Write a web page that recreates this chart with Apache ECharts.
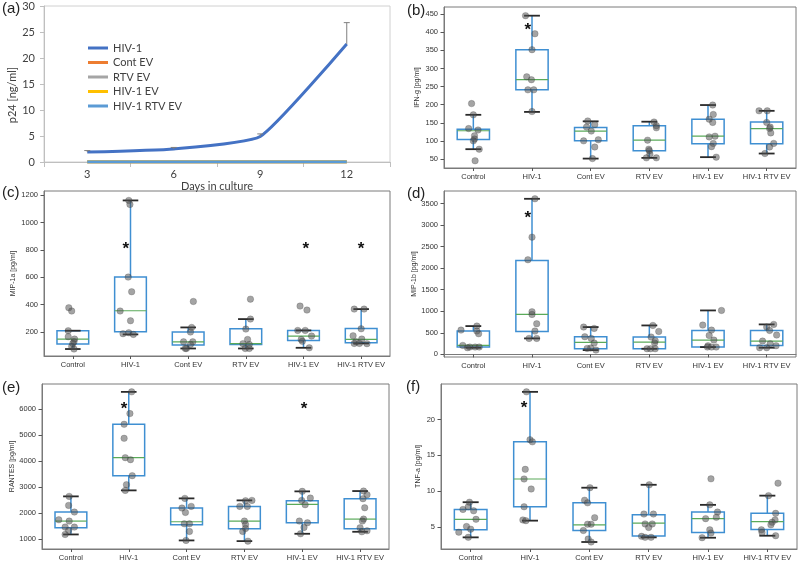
<!DOCTYPE html>
<html><head><meta charset="utf-8">
<script src="https://cdn.jsdelivr.net/npm/echarts@6/dist/echarts.min.js"></script>
<style>html,body{margin:0;padding:0;background:#fff}#c{width:800px;height:562px}</style>
</head><body><div id="c"></div>
<script>
// ---------- data ----------
const groups = ['Control','HIV-1','Cont EV','RTV EV','HIV-1 EV','HIV-1 RTV EV'];
const days = ['3','6','9','12'];
const p24Names = ['HIV-1','Cont EV','RTV EV','HIV-1 EV','HIV-1 RTV EV'];
const p24HIV1 = [1.9, 2.5, 4.9, 22.7];
const p24HIV1Err = [0.3, 0.3, 0.5, 4.1];
const p24ContEV = [0, 0, 0, 0];
const p24RTVEV = [0, 0, 0, 0];
const p24HIV1EV = [0, 0, 0, 0];
const p24HIV1RTVEV = [0, 0, 0, 0];

// box stats per group: [low whisker, Q1, median, Q3, high whisker]
const ifnBox = [[77,104,128,132,172],[180,241,269,352,446],[51,100,127,137,154],[53,73,102,142,153],[55,92,113,160,199],[65,92,134,152,183]];
const ifnPoints = [[203,172,134,130,114,105,100,77,45],[446,396,352,277,269,241,241,181],[155,145,138,127,103,100,83,51],[152,142,136,102,77,73,63,53,53],[199,173,160,151,113,111,93,84,55],[183,183,151,138,134,122,93,83,65]];
const ifnJitter = [[-.03,0,-.08,.08,.02,.02,0,.1,.03],[-.11,.05,0,-.09,-.01,-.07,.03,0],[-.05,.07,-.07,.01,.13,-.12,.07,.03],[.08,.12,.12,-.03,-.01,0,.01,-.05,.12],[.08,.09,.02,.08,.12,.02,.09,.06,.14],[-.13,.01,0,.06,.05,.07,.12,.05,-.03]];
const ifnStars = [[1, 418, -0.07]];
const ifnTicks = [50,100,150,200,250,300,350,400,450];

const mip1aBox = [[76,112,149,210,210],[183,202,356,602,1163],[80,105,129,200,234],[80,110,115,224,295],[85,139,171,212,212],[117,122,146,227,368]];
const mip1aPoints = [[378,354,210,166,149,129,117,95,76],[1163,1134,602,495,354,283,195,188,183],[424,234,200,129,129,110,80,80],[441,295,222,146,115,110,80,80],[390,361,212,212,171,146,132,85],[368,368,224,173,149,129,117,117,115]];
const mip1aJitter = [[-.07,-.02,-.08,-.08,.03,.02,0,-.02,.02],[-.03,-.01,-.04,.02,-.18,0,-.03,-.13,.05],[.09,.06,.04,-.08,.08,.04,-.03,-.05],[.08,.08,0,.03,-.05,.06,-.01,.06],[-.06,.06,-.1,.03,.14,-.04,-.02,.1],[-.12,.05,0,-.14,.01,-.09,-.12,-.03,.1]];
const mip1aStars = [[1, 837, -0.08],[4, 837, 0.04],[5, 837, 0]];
const mip1aTicks = [200,400,600,800,1000,1200];

const mip1bBox = [[155,170,209,541,657],[371,533,927,2179,3609],[100,131,278,410,634],[131,131,286,402,672],[170,170,332,556,1020],[155,209,309,556,696]];
const mip1bPoints = [[657,564,541,479,209,170,170,170,155],[3609,2720,2195,989,927,711,541,371,371],[634,603,410,371,263,147,139,100],[672,533,402,317,263,131,131,131],[1020,680,564,440,332,200,170,170,170],[696,634,556,448,309,247,201,155,155]];
const mip1bJitter = [[.06,-.21,.06,.09,-.18,-.06,.03,.1,-.1],[.05,0,-.07,0,0,.08,.05,.08,-.05],[-.12,.06,-.1,.01,.06,0,-.06,.09],[.06,.16,.03,.1,.09,-.04,.1,.02],[.23,-.09,.06,.02,.1,0,-.01,.06,.14],[.12,0,.05,.17,-.07,.06,.16,0,-.12]];
const mip1bStars = [[1, 3246, -0.07]];
const mip1bTicks = [0,500,1000,1500,2000,2500,3000,3500];

const rantesBox = [[1180,1437,1694,2041,2645],[2876,3442,4135,5420,6667],[950,1553,1668,2195,2568],[923,1398,1694,2260,2491],[1206,1630,2336,2478,2838],[1283,1398,1771,2555,2850]];
const rantesPoints = [[2645,2298,2041,1745,1694,1463,1463,1334,1180],[6667,5832,5420,4880,4135,4058,3442,3095,2876],[2568,2260,2195,2028,1591,1591,1295,950],[2491,2478,2260,2260,1694,1565,1411,1296,923],[2838,2580,2491,2323,1694,1630,1450,1206],[2850,2709,2555,2208,1771,1694,1437,1321,1283]];
const rantesJitter = [[-.03,-.04,.06,-.21,-.03,.06,-.1,-.04,-.1],[.05,.02,-.08,-.08,-.06,.03,.06,-.04,-.06],[-.03,.08,-.08,-.02,-.04,.05,.05,-.01],[.13,.02,.05,-.08,0,.02,.02,-.03,.06],[0,.14,-.01,.05,-.05,.09,.03,-.03],[.06,.12,.05,.08,.06,.04,0,.12,.03]];
const rantesStars = [[1, 6166, -0.08],[4, 6166, 0.03]];
const rantesTicks = [1000,2000,3000,4000,5000,6000];

const tnfBox = [[3.53,4.59,6.06,7.44,8.45],[5.87,7.81,11.7,16.9,23.9],[2.88,4.49,5.28,8.36,10.48],[3.53,3.71,5.51,6.70,10.89],[3.48,4.22,6.15,7.07,8.08],[3.76,4.63,5.74,6.89,9.37]];
const tnfPoints = [[8.45,7.81,7.44,7.25,6.06,5.05,4.68,4.26,3.53],[23.9,17.2,16.9,13.05,11.7,10.3,7.81,5.97,5.87],[10.48,8.73,8.36,6.29,5.37,5.37,4.49,3.30,2.88],[10.89,6.79,6.79,5.41,5.41,4.91,3.67,3.53,3.53],[11.72,8.08,7.07,6.33,6.15,4.59,4.13,3.48],[11.12,9.37,6.89,5.97,5.64,5.28,4.59,4.22,3.76]];
const tnfJitter = [[-.02,-.04,-.13,.05,.09,-.07,0,-.2,-.04],[-.06,0,.04,-.08,-.1,.02,-.1,-.12,-.07],[.01,-.08,-.03,.09,.03,-.03,-.1,-.02,.03],[.01,-.08,.08,-.06,.06,0,-.12,.04,-.06],[.05,.03,.16,.14,-.04,.03,.05,-.1],[.18,.02,.14,.13,.08,.06,-.1,-.09,.14]];
const tnfStars = [[1, 22.1, -0.1]];
const tnfTicks = [5,10,15,20];

// ---------- layout / style ----------
const BLUE = '#3f8fd2', GREEN = '#5aaa5a', CAP = '#2a2a2a', FRAME = '#7a7a7a';
const TXT = '#333';
const FF = 'Liberation Sans';

const boxPanels = [
  {label:'(b)', name:'IFN-g [pg/ml]', box:ifnBox, pts:ifnPoints, jit:ifnJitter, stars:ifnStars, ticks:ifnTicks, min:25, max:470,
   grid:{left:444, top:7, width:352, height:161}, nameGap:23, lab:[407,3]},
  {label:'(c)', name:'MIP-1a [pg/ml]', box:mip1aBox, pts:mip1aPoints, jit:mip1aJitter, stars:mip1aStars, ticks:mip1aTicks, min:25, max:1232,
   grid:{left:44, top:191, width:346, height:165}, nameGap:27, lab:[2,185]},
  {label:'(d)', name:'MIP-1b [pg/ml]', box:mip1bBox, pts:mip1bPoints, jit:mip1bJitter, stars:mip1bStars, ticks:mip1bTicks, min:-60, max:3790,
   grid:{left:444, top:191, width:352, height:166}, nameGap:25, lab:[407,186]},
  {label:'(e)', name:'RANTES [pg/ml]', box:rantesBox, pts:rantesPoints, jit:rantesJitter, stars:rantesStars, ticks:rantesTicks, min:620, max:6970,
   grid:{left:42, top:384, width:347, height:165}, nameGap:26, lab:[2,380]},
  {label:'(f)', name:'TNF-a [pg/ml]', box:tnfBox, pts:tnfPoints, jit:tnfJitter, stars:tnfStars, ticks:tnfTicks, min:1.9, max:25.0,
   grid:{left:441, top:384, width:356, height:165}, nameGap:19, lab:[406,379]}
];

const grids = [{left:44, top:6, width:346, height:156, show:true, borderColor:'#d0d0d0', borderWidth:1}];
const xAxes = [{
  type:'category', gridIndex:0, data:days, boundaryGap:true,
  name:'Days in culture', nameLocation:'middle', nameGap:12,
  nameTextStyle:{fontSize:11, color:'#404040', fontFamily:'Lato'},
  axisLine:{lineStyle:{color:'#bfbfbf'}}, axisTick:{show:true, length:5, lineStyle:{color:'#bfbfbf'}},
  axisLabel:{fontSize:11, color:'#404040', fontFamily:'Lato', margin:7}
}];
const yAxes = [{
  type:'value', gridIndex:0, min:0, max:30, interval:5,
  name:'p24 [ng/ml]', nameLocation:'middle', nameGap:26,
  nameTextStyle:{fontSize:11, color:'#404040', fontFamily:'Lato', padding:[0,22,0,0]},
  axisLine:{show:true, lineStyle:{color:'#bfbfbf'}}, axisTick:{show:true, length:4, lineStyle:{color:'#bfbfbf'}},
  axisLabel:{fontSize:11, color:'#404040', fontFamily:'Lato', margin:9}, splitLine:{show:false}
}];

const p24Colors = ['#4472c4','#ed7d31','#a5a5a5','#ffc000','#5b9bd5'];
const p24Data = [p24HIV1, p24ContEV, p24RTVEV, p24HIV1EV, p24HIV1RTVEV];
const series = [];
p24Names.forEach((n, i) => {
  series.push({
    type:'line', name:n, xAxisIndex:0, yAxisIndex:0, data:p24Data[i],
    symbol:'none', smooth: i === 0 ? 0.15 : false,
    lineStyle:{color:p24Colors[i], width:3}, itemStyle:{color:p24Colors[i]}, z: i === 0 ? 3 : 2
  });
});
// error bars for HIV-1
series.push({
  type:'custom', xAxisIndex:0, yAxisIndex:0, z:4,
  data: p24HIV1.map((v, i) => [i, v, v + p24HIV1Err[i]]),
  encode:{x:0, y:[1,2]},
  renderItem: (params, api) => {
    const a = api.coord([api.value(0), api.value(1)]);
    const b = api.coord([api.value(0), api.value(2)]);
    return {type:'group', children:[
      {type:'line', shape:{x1:a[0], y1:a[1], x2:b[0], y2:b[1]}, style:{stroke:'#7f7f7f', lineWidth:1}},
      {type:'line', shape:{x1:b[0]-3, y1:b[1], x2:b[0]+3, y2:b[1]}, style:{stroke:'#7f7f7f', lineWidth:1}}
    ]};
  }
});

const graphics = [{type:'text', left:2, top:1, style:{text:'(a)', fontSize:15, fill:'#222', fontFamily:FF}}];

function boxRender(params, api) {
  const x = api.value(0);
  const c = i => api.coord([x, api.value(i)]);
  const low = c(1), q1 = c(2), med = c(3), q3 = c(4), high = c(5);
  const w = api.size([0.55, 0])[0];
  const cw = api.size([0.27, 0])[0];
  const cx = low[0];
  return {type:'group', children:[
    {type:'line', shape:{x1:cx, y1:q1[1], x2:cx, y2:low[1]}, style:{stroke:BLUE, lineWidth:1.5}},
    {type:'line', shape:{x1:cx, y1:q3[1], x2:cx, y2:high[1]}, style:{stroke:BLUE, lineWidth:1.5}},
    {type:'rect', shape:{x:cx - w/2, y:q3[1], width:w, height:q1[1] - q3[1]}, style:{fill:'rgba(255,255,255,0)', stroke:BLUE, lineWidth:1.5}},
    {type:'line', shape:{x1:cx - w/2, y1:med[1], x2:cx + w/2, y2:med[1]}, style:{stroke:GREEN, lineWidth:1.2}},
    {type:'line', shape:{x1:cx - cw/2, y1:low[1], x2:cx + cw/2, y2:low[1]}, style:{stroke:CAP, lineWidth:1.8}},
    {type:'line', shape:{x1:cx - cw/2, y1:high[1], x2:cx + cw/2, y2:high[1]}, style:{stroke:CAP, lineWidth:1.8}}
  ]};
}

function starRender(params, api) {
  const p = api.coord([api.value(0), api.value(1)]);
  return {type:'text', x:p[0], y:p[1] + 4, style:{text:'*', fontSize:17, fontWeight:'bold', fill:'#111', align:'center', verticalAlign:'middle', fontFamily:FF}};
}

const catIdx = [1,2,3,4,5,6];
boxPanels.forEach((p, k) => {
  const gi = k + 1;
  grids.push(Object.assign({show:true, borderColor:FRAME, borderWidth:1}, p.grid));
  xAxes.push({
    type:'value', gridIndex:gi, min:0.5, max:6.5,
    axisLine:{show:true, lineStyle:{color:FRAME}},
    axisTick:{show:true, customValues:catIdx, length:3, lineStyle:{color:'#555'}},
    axisLabel:{customValues:catIdx, formatter:v => groups[Math.round(v) - 1], fontSize:7.5, color:TXT, fontFamily:FF, margin:5},
    splitLine:{show:false}
  });
  yAxes.push({
    type:'value', gridIndex:gi, min:p.min, max:p.max,
    name:p.name, nameLocation:'middle', nameGap:p.nameGap,
    nameTextStyle:{fontSize:7, color:TXT, fontFamily:FF},
    axisLine:{show:true, lineStyle:{color:FRAME}},
    axisTick:{show:true, customValues:p.ticks, length:3.5, lineStyle:{color:'#555'}},
    axisLabel:{customValues:p.ticks, formatter:v => String(v), fontSize:7.5, color:TXT, fontFamily:FF, margin:6},
    splitLine:{show:false}
  });
  series.push({
    type:'custom', xAxisIndex:gi, yAxisIndex:gi, z:2,
    data: p.box.map((b, i) => [i + 1].concat(b)),
    encode:{x:0, y:[1,2,3,4,5]},
    renderItem: boxRender
  });
  const pts = [];
  p.pts.forEach((arr, i) => arr.forEach((v, j) => pts.push([i + 1 + p.jit[i][j], v])));
  series.push({
    type:'scatter', xAxisIndex:gi, yAxisIndex:gi, z:3, data:pts, symbolSize:6.5,
    itemStyle:{color:'rgba(80,80,80,0.65)', borderColor:'rgba(40,40,40,0.5)', borderWidth:0.5},
    emphasis:{disabled:true}
  });
  series.push({
    type:'custom', xAxisIndex:gi, yAxisIndex:gi, z:4,
    data: p.stars.map(s => [s[0] + 1 + s[2], s[1]]),
    encode:{x:0, y:1},
    renderItem: starRender
  });
  graphics.push({type:'text', left:p.lab[0], top:p.lab[1], style:{text:p.label, fontSize:15, fill:'#222', fontFamily:FF}});
});

const chart = echarts.init(document.getElementById('c'), null, {renderer:'canvas'});
chart.setOption({
  animation:false,
  backgroundColor:'#fff',
  grid:grids, xAxis:xAxes, yAxis:yAxes, series:series, graphic:graphics,
  legend:{
    data:p24Names, orient:'vertical', left:83, top:36, icon:'rect', itemWidth:20, itemHeight:3, itemGap:0.5,
    textStyle:{fontSize:11, color:'#404040', fontFamily:'Lato', lineHeight:14}
  }
});
</script></body></html>
